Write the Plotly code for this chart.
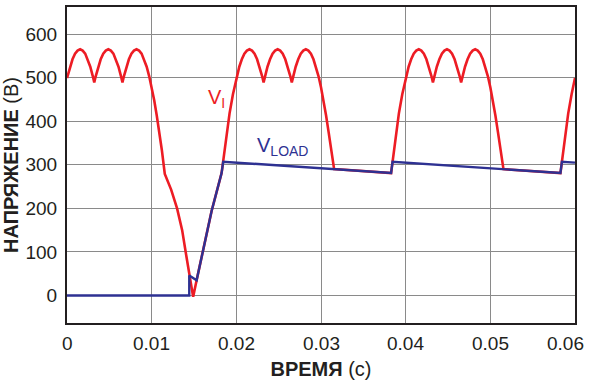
import plotly.graph_objects as go

# ---------------- data ----------------
# V_I (input voltage), cycle 1: 0 .. 0.02 s (start-up)
vi_t_cycle1 = [0.0, 0.00035, 0.00065, 0.00095, 0.00125, 0.00155, 0.00185, 0.00215, 0.00245, 0.00275, 0.00305, 0.00322,
               0.00339, 0.00368, 0.00398, 0.00428, 0.00458, 0.00488, 0.00518, 0.00548, 0.00578, 0.00608, 0.00638, 0.00655,
               0.00672, 0.00701, 0.00731, 0.00761, 0.00791, 0.00821, 0.00851, 0.00881, 0.00911, 0.00941, 0.00971,
               0.0100, 0.0103, 0.0106, 0.0109, 0.0112, 0.01155, 0.0123, 0.0130, 0.0136, 0.0141, 0.0145, 0.0149,
               0.01531, 0.01708, 0.01826, 0.01845, 0.0188, 0.0192, 0.0196]
vi_v_cycle1 = [499, 525, 542, 555, 562, 565, 562, 555, 542, 525, 503, 489,
               503, 525, 542, 555, 562, 565, 562, 555, 542, 525, 503, 489,
               503, 525, 542, 555, 562, 565, 562, 555, 542, 525, 503,
               478, 448, 413, 375, 334, 279, 243, 200, 150, 90, 40, -3,
               35, 194, 281, 307, 367, 418, 462]

# V_I, cycle 2: 0.02 .. 0.04 s
vi_t_cycle2 = [0.0200, 0.02035, 0.02065, 0.02095, 0.02125, 0.02155, 0.02185, 0.02215, 0.02245, 0.02275, 0.02305, 0.02322,
               0.02339, 0.02368, 0.02398, 0.02428, 0.02458, 0.02488, 0.02518, 0.02548, 0.02578, 0.02608, 0.02638, 0.02655,
               0.02672, 0.02701, 0.02731, 0.02761, 0.02791, 0.02821, 0.02851, 0.02881, 0.02911, 0.02941, 0.02971,
               0.0300, 0.0303, 0.0306, 0.0309, 0.0312, 0.03155,
               0.03828, 0.03845, 0.0388, 0.0392, 0.0396]
vi_v_cycle2 = [499, 525, 542, 555, 562, 565, 562, 555, 542, 525, 503, 489,
               503, 525, 542, 555, 562, 565, 562, 555, 542, 525, 503, 489,
               503, 525, 542, 555, 562, 565, 562, 555, 542, 525, 503,
               478, 448, 413, 375, 334, 290,
               281, 307, 367, 418, 462]

# V_I, cycle 3: 0.04 .. 0.06 s
vi_t_cycle3 = [0.0400, 0.04035, 0.04065, 0.04095, 0.04125, 0.04155, 0.04185, 0.04215, 0.04245, 0.04275, 0.04305, 0.04322,
               0.04339, 0.04368, 0.04398, 0.04428, 0.04458, 0.04488, 0.04518, 0.04548, 0.04578, 0.04608, 0.04638, 0.04655,
               0.04672, 0.04701, 0.04731, 0.04761, 0.04791, 0.04821, 0.04851, 0.04881, 0.04911, 0.04941, 0.04971,
               0.0500, 0.0503, 0.0506, 0.0509, 0.0512, 0.05155,
               0.05828, 0.05845, 0.0588, 0.0592, 0.0596, 0.0600]
vi_v_cycle3 = [499, 525, 542, 555, 562, 565, 562, 555, 542, 525, 503, 489,
               503, 525, 542, 555, 562, 565, 562, 555, 542, 525, 503, 489,
               503, 525, 542, 555, 562, 565, 562, 555, 542, 525, 503,
               478, 448, 413, 375, 334, 290,
               281, 307, 367, 418, 462, 499]

# V_LOAD (load voltage)
vload_t = [0.0, 0.01444, 0.01444, 0.01531, 0.01708, 0.01826, 0.01845, 0.03828, 0.03845, 0.05828, 0.05845, 0.0600]
vload_v = [0, 0, 46, 35, 194, 281, 307, 281, 307, 281, 307, 305]

# axes
x_tick_vals = [0, 0.01, 0.02, 0.03, 0.04, 0.05, 0.06]
x_tick_text = ["0", "0.01", "0.02", "0.03", "0.04", "0.05", "0.06"]
y_tick_vals = [0, 100, 200, 300, 400, 500, 600]
y_tick_text = ["0", "100", "200", "300", "400", "500", "600"]

x_title = "<b>ВРЕМЯ</b> (с)"
y_title = "<b>НАПРЯЖЕНИЕ</b> (В)"
label_vi = "V<sub>I</sub>"
label_vload = "V<sub>LOAD</sub>"

# ---------------- figure ----------------
RED = "#ED1C24"
BLUE = "#2E3192"
INK = "#231F20"
GRID = "#8A8A8A"
FONT = "Liberation Sans, Arial, sans-serif"

vi_t = vi_t_cycle1 + vi_t_cycle2 + vi_t_cycle3
vi_v = vi_v_cycle1 + vi_v_cycle2 + vi_v_cycle3

fig = go.Figure()
fig.add_trace(go.Scatter(x=vi_t, y=vi_v, mode="lines",
                         line=dict(color=RED, width=2.6), name="V_I", showlegend=False))
fig.add_trace(go.Scatter(x=vload_t, y=vload_v, mode="lines",
                         line=dict(color=BLUE, width=2.4), name="V_LOAD", showlegend=False))

annotations = []
for v, t in zip(x_tick_vals, x_tick_text):
    annotations.append(dict(x=v, y=0, xref="x", yref="paper", text=t, showarrow=False,
                            xanchor="center", yanchor="top", yshift=-8,
                            xshift=-10 if v == x_tick_vals[-1] else 0,
                            font=dict(family=FONT, size=19, color=INK)))
annotations.append(dict(x=0.01646, y=451, xref="x", yref="y", text=label_vi, showarrow=False,
                        xanchor="left", yanchor="middle", font=dict(family=FONT, size=20, color=RED)))
annotations.append(dict(x=0.02216, y=342, xref="x", yref="y", text=label_vload, showarrow=False,
                        xanchor="left", yanchor="middle", font=dict(family=FONT, size=20, color=BLUE)))

fig.update_layout(
    width=591, height=384,
    margin=dict(l=67, r=16, t=5, b=61),
    paper_bgcolor="white", plot_bgcolor="white",
    font=dict(family=FONT, size=18, color=INK),
    annotations=annotations,
)
fig.update_xaxes(range=[0, 0.06], tickvals=x_tick_vals, showticklabels=False,
                 showgrid=True, gridcolor=GRID, gridwidth=1, zeroline=False,
                 showline=True, linecolor=INK, linewidth=2, mirror=True,
                 title=dict(text=x_title, standoff=38, font=dict(family=FONT, size=20, color=INK)))
fig.update_yaxes(range=[-63, 662], tickvals=y_tick_vals, ticktext=y_tick_text,
                 showgrid=True, gridcolor=GRID, gridwidth=1, zeroline=False,
                 showline=True, linecolor=INK, linewidth=2, mirror=True,
                 ticks="outside", ticklen=4, tickcolor="rgba(0,0,0,0)",
                 tickfont=dict(family=FONT, size=19, color=INK),
                 title=dict(text=y_title, standoff=6, font=dict(family=FONT, size=20, color=INK)))

fig.write_html("out.html", config={"displayModeBar": False},
               post_script="document.body.style.margin='0px';document.body.style.overflow='hidden';")
